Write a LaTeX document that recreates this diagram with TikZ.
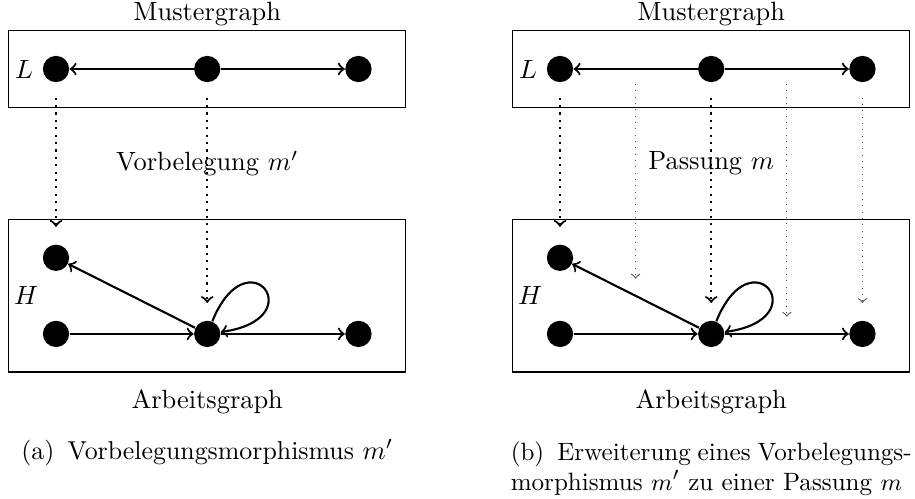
\documentclass[tikz,border=0pt]{standalone}
\usepackage{tikz}
\usetikzlibrary{positioning,fit,calc}

\begin{document}
\begin{tikzpicture}[node distance=6.5mm and 16.5mm,
  vtx/.style={circle, fill=black, inner sep=0pt, minimum size=3.5mm},
  frame/.style={draw, inner xsep=4.5mm, inner ysep=3.25mm},
  arr/.style={->, thick},
  selfloop/.style={arr, out=68, in=8, min distance=12.5mm},
  map/.style={->, thick, dotted, shorten <=2mm, shorten >=2.3mm},
  mapthin/.style={->, dotted, black!70, shorten <=2mm, shorten >=2.3mm},
  capt/.style={font=\fontsize{9.8}{11.4}\selectfont},
  captpar/.style={font=\fontsize{9.5}{11.4}\selectfont, text width=5.34cm, align=justify}]
\useasboundingbox (-0.746,0.919) rectangle (11.44,-5.726);
% (a) Vorbelegung
\node[vtx] (vl1) {};
\node[vtx, right=of vl1] (vl2) {};
\node[vtx, right=of vl2] (vl3) {};
\node[vtx, below=2.15cm of vl1] (vh1) {};
\node[vtx, below=of vh1] (vh2) {};
\node[vtx, right=of vh2] (vh3) {};
\node[vtx, right=of vh3] (vh4) {};
\node[frame, fit=(vl1)(vl3)] (vmL) {};
\node[frame, fit=(vh1)(vh2)(vh4)] (vmH) {};
\node[left=0pt of vl1] {$L$};
\coordinate (vhm) at ($(vh1.west)!0.5!(vh2.west)$);
\node[left=-2pt of vhm] {$H$};
\node[above=-2pt of vmL] (vtL) {Mustergraph};
\node[below=3pt of vmH] (vtH) {Arbeitsgraph};
\node at ($(vmL.south)!0.5!(vmH.north)$) (vlab) {Vorbelegung $m'$};
\node[capt, below=0.9mm of vtH] (capA) {(a)\hspace{5pt}Vorbelegungsmorphismus $m'$};
\draw[arr] (vl2) -- (vl1);
\draw[arr] (vl2) -- (vl3);
\draw[arr] (vh3) -- (vh1);
\draw[arr] (vh2) -- (vh3);
\draw[arr] (vh3) -- (vh4);
\draw[selfloop] (vh3) to (vh3);
\draw[map] (vl1) -- (vh1);
\draw[map] (vl2) -- (vh3);
% (b) Passung
\node[vtx, right=23.2mm of vl3] (pl1) {};
\node[vtx, right=of pl1] (pl2) {};
\node[vtx, right=of pl2] (pl3) {};
\node[vtx, below=2.15cm of pl1] (ph1) {};
\node[vtx, below=of ph1] (ph2) {};
\node[vtx, right=of ph2] (ph3) {};
\node[vtx, right=of ph3] (ph4) {};
\node[frame, fit=(pl1)(pl3)] (pmL) {};
\node[frame, fit=(ph1)(ph2)(ph4)] (pmH) {};
\node[left=0pt of pl1] {$L$};
\coordinate (phm) at ($(ph1.west)!0.5!(ph2.west)$);
\node[left=-2pt of phm] {$H$};
\node[above=-2pt of pmL] (ptL) {Mustergraph};
\node[below=3pt of pmH] (ptH) {Arbeitsgraph};
\node at ($(pmL.south)!0.5!(pmH.north)$) (plab) {Passung $m$};
\node[captpar, below=1.2mm of ptH] (capB) {(b)\hspace{5pt}Erweiterung eines Vorbelegungs-\linebreak morphismus $m'$ zu einer Passung $m$};
\draw[arr] (pl2) -- coordinate (pe1) (pl1);
\draw[arr] (pl2) -- coordinate (pe2) (pl3);
\draw[arr] (ph3) -- coordinate (pf1) (ph1);
\draw[arr] (ph2) -- (ph3);
\draw[arr] (ph3) -- coordinate (pf2) (ph4);
\draw[selfloop] (ph3) to (ph3);
\draw[map] (pl1) -- (ph1);
\draw[map] (pl2) -- (ph3);
\draw[mapthin] (pe1) -- (pf1);
\draw[mapthin] (pe2) -- (pf2);
\draw[mapthin] (pl3) -- (ph4);
\end{tikzpicture}
\end{document}
